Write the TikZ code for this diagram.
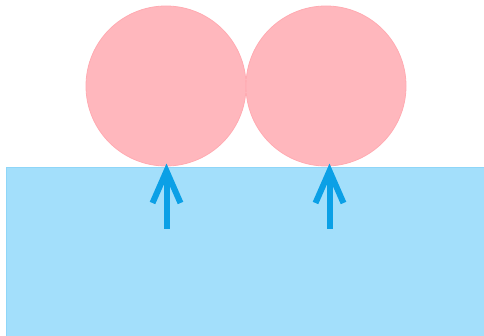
\documentclass[tikz,border=0pt]{standalone}
\definecolor{skyfill}{HTML}{A3DFFB}
\definecolor{skyedge}{HTML}{8FD6F8}
\definecolor{pinkfill}{HTML}{FFB7BD}
\definecolor{pinkedge}{HTML}{FFABB2}
\definecolor{arrowblue}{HTML}{0BA0E6}
\tikzset{
  ball/.style={circle, fill=pinkfill, draw=pinkedge, line width=0.8pt, minimum size=160pt, inner sep=0pt},
  ground/.style={fill=skyfill, draw=skyedge, line width=0.8pt},
  push/.style={draw=arrowblue, line width=6pt},
  pushhead/.style={draw=arrowblue, line width=6pt, line join=miter, miter limit=10}
}
\begin{document}
\begin{tikzpicture}[x=1pt,y=-1pt]
\useasboundingbox (0,0) rectangle (484,336);
\draw[ground] (6,167) rectangle (486,338);
\node[ball] (c1) at (166,86) {};
\node[ball] (c2) at (326,86) {};
% arrows
\coordinate (b1) at (166.5,229);
\coordinate (t1) at (166.5,171);
\coordinate (b2) at (329.5,229);
\coordinate (t2) at (329.5,171);
\draw[push] (b1) -- (t1);
\draw[pushhead] ([xshift=-14pt,yshift=-32pt]t1) -- (t1) -- ([xshift=14pt,yshift=-32pt]t1);
\draw[push] (b2) -- (t2);
\draw[pushhead] ([xshift=-14pt,yshift=-32pt]t2) -- (t2) -- ([xshift=14pt,yshift=-32pt]t2);
\end{tikzpicture}
\end{document}
